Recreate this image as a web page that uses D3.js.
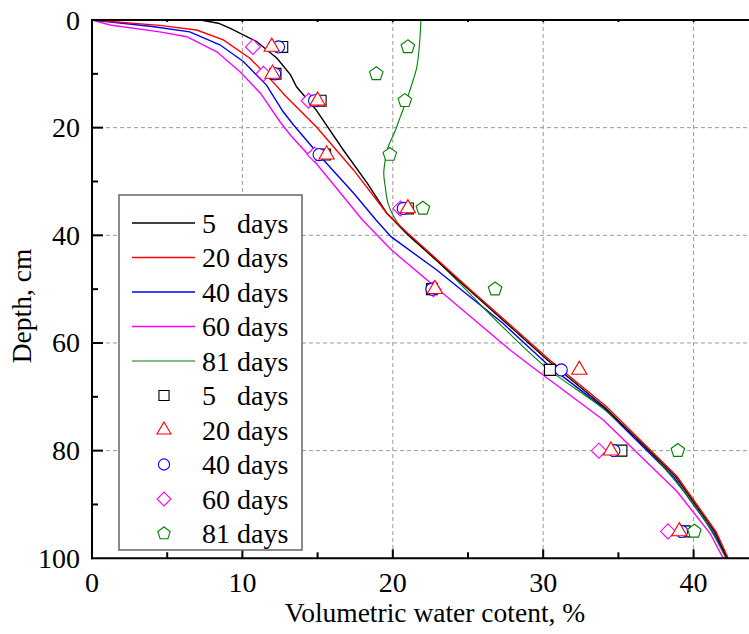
<!DOCTYPE html>
<html><head><meta charset="utf-8">
<script src="https://cdn.jsdelivr.net/npm/d3@7"></script>
<style>body{margin:0;background:#fff}svg{display:block}
text{font-family:"Liberation Serif","Times New Roman","DejaVu Serif",serif;}</style>
</head><body>
<svg id="c" width="749" height="634"></svg>
<script>
// ---- data ----
const seriesNames = ["5   days","20 days","40 days","60 days","81 days"];
const seriesColors = ["#000000","#ff0000","#0000ff","#ff00ff","#008000"];
const xTicks = [0,10,20,30,40];
const yTicks = [0,20,40,60,80,100];

// simulated curves: [water content %, depth cm]
const sim5 = [[0,0],[7.2,0],[8.4,0.6],[9.2,1.55],[10.95,4.0],[12.3,7.1],[13.2,10.2],[13.6,12.4],[14.9,16.7],[16.7,24.1],[18.3,30.3],[19.6,35.9],[20.9,39.6],[25.1,50.2],[30.3,63.2],[34.1,72],[38.8,84.8],[41.4,95],[42.25,100]];
const sim20 = [[0,0],[4.5,1.0],[6.96,1.86],[8.73,3.7],[10.5,7.1],[11.8,10.8],[12.9,14.2],[14.9,19.8],[17.4,27.9],[19.6,35.9],[21.0,39.6],[25.2,50.2],[30.45,63.2],[34.2,71.8],[38.9,84.8],[41.5,95.1],[42.3,100]];
const sim40 = [[0,0],[4.0,1.2],[6.5,2.2],[8.5,4.6],[10.06,7.7],[11.6,12.1],[12.7,17],[13.4,19.5],[15.2,25.4],[17.4,32.2],[18.9,37.2],[19.9,40.3],[22.9,46.4],[27.3,56.3],[30.45,64.4],[34.0,72],[38.7,85],[41.3,95.1],[42.2,100]];
const sim60 = [[0,0],[1.2,0.93],[4.5,2.2],[6.3,3.1],[8.3,5.9],[9.84,9.6],[11.2,13.6],[12.5,18.9],[13.2,21.4],[14.9,26.6],[18.0,37.2],[19.9,42.7],[23.6,51.4],[27.8,61.3],[29.1,64.1],[34.0,74.3],[38.9,87.6],[41.1,95.4],[41.97,100]];
const sim81 = [[21.87,0],[21.6,8.7],[21.36,11.1],[21.0,14.2],[20.5,18],[20.1,21],[19.7,23.5],[19.5,26],[19.4,28.5],[19.5,31],[19.7,34.2],[20.5,38.4],[22.9,44.6],[27.3,57],[30.4,65],[33.9,72],[38.6,85],[41.2,95],[42.15,100]];

// measured points: [water content %, depth cm]
const obs5 = [[12.65,5],[12.2,10],[15.2,15],[15.5,25],[21.0,35],[22.6,50],[30.45,65],[35.2,80],[39.4,95]];
const obs20 = [[11.95,5],[12.0,10],[15.0,15],[15.6,25],[21.0,35],[22.8,50],[32.4,65],[34.5,80],[39.05,95]];
const obs40 = [[12.4,5],[12.15,10],[14.8,15],[15.1,25],[20.7,35],[22.6,50],[31.2,65],[34.7,80],[39.2,95]];
const obs60 = [[10.7,5],[11.4,10],[14.4,15],[14.8,25],[20.5,35],[22.7,50],[33.7,80],[38.3,95]];
const obs81 = [[21.0,5],[18.9,10],[20.8,15],[19.8,25],[22.0,35],[26.8,50],[38.95,80],[40.05,95]];

// ---- chart ----
const svg = d3.select("#c");
const L = 92, T = 20, B = 558.3;
const x = d3.scaleLinear().domain([0,44]).range([L, L + 44*15.04]);
const y = d3.scaleLinear().domain([0,100]).range([T, B]);
const W = 749;

svg.append("defs").append("clipPath").attr("id","clip")
  .append("rect").attr("x",L).attr("y",T).attr("width",W-L).attr("height",B-T);

// grid
const grid = svg.append("g").attr("stroke","#9a9a9a").attr("stroke-width",1).attr("stroke-dasharray","4,3");
[10,20,30,40].forEach(v=>grid.append("line").attr("x1",x(v)).attr("x2",x(v)).attr("y1",T).attr("y2",B));
[20,40,60,80].forEach(v=>grid.append("line").attr("x1",L).attr("x2",W).attr("y1",y(v)).attr("y2",y(v)));

// lines
const plot = svg.append("g").attr("clip-path","url(#clip)");
const sims = [sim5,sim20,sim40,sim60,sim81];
const order = [3,2,4,0,1];
order.forEach(i=>{
  const gen = d3.line().x(d=>x(d[0])).y(d=>y(d[1]))
    .curve(i===4 ? d3.curveMonotoneY : d3.curveLinear);
  plot.append("path").attr("d",gen(sims[i])).attr("fill","none")
    .attr("stroke",seriesColors[i]).attr("stroke-width", i===4 ? 1.1 : 1.4);
});

// symbols
const pentagon = {draw(ctx,size){const r=Math.sqrt(size/2.378);for(let k=0;k<5;k++){const a=-Math.PI/2+k*2*Math.PI/5;const px=r*Math.cos(a),py=r*Math.sin(a);k?ctx.lineTo(px,py):ctx.moveTo(px,py);}ctx.closePath();}};
const diamond = {draw(ctx,size){const r=Math.sqrt(size/2);ctx.moveTo(0,-r);ctx.lineTo(r,0);ctx.lineTo(0,r);ctx.lineTo(-r,0);ctx.closePath();}};
const symTypes = [d3.symbolSquare, d3.symbolTriangle, d3.symbolCircle, diamond, pentagon];
const symSizes = [120, 100, 115, 112, 120];
const obs = [obs5,obs20,obs40,obs60,obs81];
const drawOrder = [0,3,2,1,4];
const mk = svg.append("g");
drawOrder.forEach(i=>{
  const s = d3.symbol().type(symTypes[i]).size(symSizes[i]);
  mk.selectAll(null).data(obs[i]).enter().append("path")
    .attr("d",s).attr("transform",d=>`translate(${x(d[0])},${y(d[1])})`)
    .attr("fill","#fff").attr("stroke",seriesColors[i]).attr("stroke-width",1.1);
});

// axes
const ax = svg.append("g").attr("stroke","#000");
ax.append("line").attr("x1",L).attr("x2",L).attr("y1",T-1).attr("y2",B+1).attr("stroke-width",2);
ax.append("line").attr("x1",L-1).attr("x2",W).attr("y1",B).attr("y2",B).attr("stroke-width",2);
ax.append("line").attr("x1",L-1).attr("x2",W).attr("y1",T).attr("y2",T).attr("stroke-width",2);
d3.range(5,44,5).forEach(v=>{
  const major = v%10===0;
  ax.append("line").attr("x1",x(v)).attr("x2",x(v)).attr("y1",B).attr("y2",B-(major?9:6)).attr("stroke-width",2);
  ax.append("line").attr("x1",x(v)).attr("x2",x(v)).attr("y1",T).attr("y2",T+2).attr("stroke-width",2);
});
d3.range(10,100,10).forEach(v=>{
  const major = v%20===0;
  ax.append("line").attr("x1",L).attr("x2",L+(major?11:6)).attr("y1",y(v)).attr("y2",y(v)).attr("stroke-width",2);
});

// tick labels
svg.append("g").selectAll("text").data(xTicks).enter().append("text")
  .attr("x",d=>x(d)).attr("y",592).attr("text-anchor","middle")
  .attr("font-size",28).text(d=>d);
svg.append("g").selectAll("text").data(yTicks).enter().append("text")
  .attr("x",80).attr("y",d=>y(d)+9.5).attr("text-anchor","end")
  .attr("font-size",28).text(d=>d);

// axis titles
svg.append("text").attr("x",435).attr("y",622).attr("text-anchor","middle")
  .attr("font-size",27.5).text("Volumetric water cotent, %");
svg.append("text").attr("transform","translate(31,306) rotate(-90)").attr("text-anchor","middle")
  .attr("font-size",27.5).text("Depth, cm");

// legend
const lg = svg.append("g");
lg.append("rect").attr("x",119).attr("y",195).attr("width",183).attr("height",355)
  .attr("fill","#fff").attr("stroke","#666").attr("stroke-width",1.5);
const rowH = 34.5, row0 = 223;
seriesNames.forEach((n,i)=>{
  const yy = row0 + i*rowH;
  lg.append("line").attr("x1",132).attr("x2",195).attr("y1",yy).attr("y2",yy)
    .attr("stroke",seriesColors[i]).attr("stroke-width", i===4?1.1:1.4);
  lg.append("text").attr("x",202).attr("y",yy+9.5).attr("font-size",28)
    .style("white-space","pre").text(n);
});
seriesNames.forEach((n,i)=>{
  const yy = row0 + (i+5)*rowH;
  const s = d3.symbol().type(symTypes[i]).size(symSizes[i]*0.85);
  lg.append("path").attr("d",s).attr("transform",`translate(164,${yy})`)
    .attr("fill","#fff").attr("stroke",seriesColors[i]).attr("stroke-width",1.1);
  lg.append("text").attr("x",202).attr("y",yy+9.5).attr("font-size",28)
    .style("white-space","pre").text(n);
});
</script>
</body></html>
